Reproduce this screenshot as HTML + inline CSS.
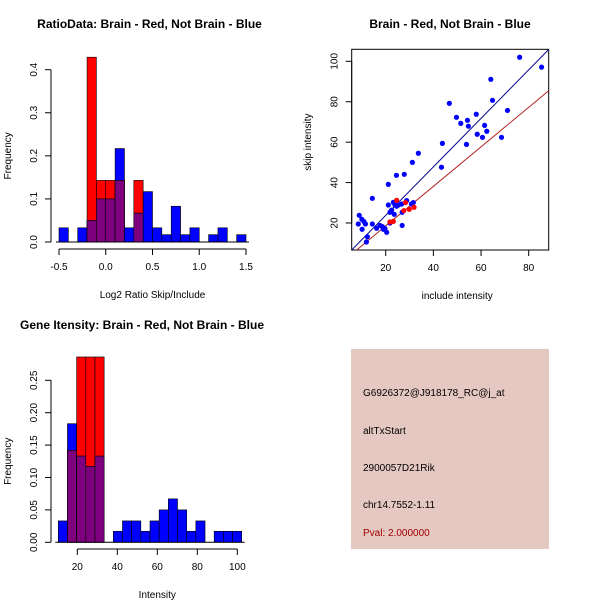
<!DOCTYPE html>
<html><head><meta charset="utf-8"><style>
body{margin:0;background:#fff}
svg{display:block}
text{font-family:"Liberation Sans",sans-serif;fill:#000}
.t{font-weight:bold;font-size:12px}
.l{font-size:10px}
</style></head><body>
<svg id="svg" width="600" height="600" viewBox="0 0 600 600">
<g id="g1"></g>
<g id="g2"></g>
<g id="g3"></g>
<g>
<rect x="351" y="349" width="198" height="200" fill="#e6c8c2"/>
<text x="363" y="396" class="l">G6926372@J918178_RC@j_at</text>
<text x="363" y="434" class="l">altTxStart</text>
<text x="363" y="471" class="l">2900057D21Rik</text>
<text x="363" y="508" class="l">chr14.7552-1.11</text>
<text x="363" y="536" class="l" style="fill:#a00000">Pval: 2.000000</text>
</g>
</svg>
<script>
// ---- Panel 1 data ----
const ratioBinStart = -0.5;
const ratioBinWidth = 0.1;
const ratioBlue = [0.033,0,0.033,0.05,0.1,0.1,0.217,0.033,0.067,0.117,0.033,0.017,0.083,0.017,0.033,0,0.017,0.033,0,0.017];
const ratioRed  = [0,0,0,0.429,0.143,0.143,0.143,0,0.143,0,0,0,0,0,0,0,0,0,0,0];
const ratioXTicks = [-0.5,0,0.5,1,1.5];
const ratioXTickLabels = ["-0.5","0.0","0.5","1.0","1.5"];
const ratioYTicks = [0,0.1,0.2,0.3,0.4];
const ratioYTickLabels = ["0.0","0.1","0.2","0.3","0.4"];
// ---- Panel 2 data ----
const scatterBlueX = [76.2,85.4,64.1,64.8,46.7,71.1,58,49.7,54.3,51.5,54.7,61.5,62.4,58.4,60.6,68.6,53.9,43.8,33.7,31.2,43.4,27.8,24.5,21.1,14.4,8.9,10,10.9,11.5,8.5,10.1,14.4,12.3,11.9,16.2,17.6,19,20.4,19.7,18.6,21.8,21.1,23.2,23.9,25.3,26.7,21.8,23.6,26.9,28.8,31.6,30.8,26.9,24.6,22.5];
const scatterBlueY = [102,97.1,91.1,80.7,79.2,75.7,73.8,72.3,70.8,69.3,67.9,68.3,65.4,63.9,62.4,62.4,58.9,59.4,54.5,50,47.6,44.1,43.6,39.1,32.2,23.8,21.8,20.7,19.5,19.5,16.9,19.5,13.2,10.6,17.4,18.8,16.9,15.4,17.2,18.2,20,28.9,30.2,28.9,28.9,29.4,25.3,24.3,25.3,31.1,30.1,29.4,18.8,28.3,26.4];
const scatterRedX = [24.6,23.2,28.3,29.9,31.9,21.8,27.6];
const scatterRedY = [31.2,20.8,30.1,26.8,27.8,20.5,26.1];
const blueFit = [-0.24,1.2];   // intercept, slope
const redFit = [-1.0,0.978];
const scatterXTicks = [20,40,60,80];
const scatterXTickLabels = ["20","40","60","80"];
const scatterYTicks = [20,40,60,80,100];
const scatterYTickLabels = ["20","40","60","80","100"];
// ---- Panel 3 data ----
const intBinStart = 10.5;
const intBinWidth = 4.585;
const intBlue = [0.033,0.183,0.133,0.117,0.133,0,0.017,0.033,0.033,0.017,0.033,0.05,0.067,0.05,0.017,0.033,0,0.017,0.017,0.017];
const intRed  = [0,0.142,0.286,0.286,0.286,0,0,0,0,0,0,0,0,0,0,0,0,0,0,0];
const intXTicks = [20,40,60,80,100];
const intXTickLabels = ["20","40","60","80","100"];
const intYTicks = [0,0.05,0.1,0.15,0.2,0.25];
const intYTickLabels = ["0.00","0.05","0.10","0.15","0.20","0.25"];

const NS="http://www.w3.org/2000/svg";
function mk(p,tag,a){const e=document.createElementNS(NS,tag);for(const k in a)e.setAttribute(k,a[k]);p.appendChild(e);return e;}
function lin(d0,d1,r0,r1){return v=>r0+(v-d0)*(r1-r0)/(d1-d0);}
function txt(p,x,y,s,cls,rot,anchor){const e=mk(p,'text',{x:x,y:y,'class':cls,'text-anchor':anchor||'middle'});if(rot)e.setAttribute('transform','rotate(-90 '+x+' '+y+')');e.textContent=s;return e;}

function hist(g,title,xlab,bs,bw,blue,red,sx,sy,xt,xtl,yt,ytl,yaxisX,xaxisY,titleX,titleY){
  let e=txt(g,titleX,titleY,title,'t');
  
  
  for(let i=0;i<blue.length;i++){
    const x0=sx(bs+i*bw),x1=sx(bs+(i+1)*bw);
    const b=blue[i],r=red[i],m=Math.min(b,r);
    if(r>0){e=mk(g,'rect',{x:x0,y:sy(r),width:x1-x0,height:sy(0)-sy(r),fill:'#ff0000',stroke:'#000','stroke-width':0.6});
      
      }
    if(b>0){e=mk(g,'rect',{x:x0,y:sy(b),width:x1-x0,height:sy(0)-sy(b),fill:'#0000ff',stroke:'#000','stroke-width':0.6});
      
      }
    if(m>0){e=mk(g,'rect',{x:x0,y:sy(m),width:x1-x0,height:sy(0)-sy(m),fill:'#7f007f',stroke:'#000','stroke-width':0.6});
      
      }
  }
  mk(g,'line',{x1:sx(bs)-3,x2:sx(bs+blue.length*bw)+3,y1:sy(0),y2:sy(0),stroke:'#000'});
  axes(g,sx,sy,xt,xtl,yt,ytl,yaxisX,xaxisY,xlab,'Frequency',8,14);
}
function axes(g,sx,sy,xt,xtl,yt,ytl,yaxisX,xaxisY,xlab,ylab,ylabX,yOff){
  let e;
  mk(g,'line',{x1:sx(xt[0]),x2:sx(xt[xt.length-1]),y1:xaxisY,y2:xaxisY,stroke:'#000'});
  xt.forEach((v,i)=>{mk(g,'line',{x1:sx(v),x2:sx(v),y1:xaxisY,y2:xaxisY+6,stroke:'#000'});
    e=txt(g,sx(v),xaxisY+21,xtl[i],'l');
    
    });
  mk(g,'line',{x1:yaxisX,x2:yaxisX,y1:sy(yt[0]),y2:sy(yt[yt.length-1]),stroke:'#000'});
  yt.forEach((v,i)=>{mk(g,'line',{x1:yaxisX-6,x2:yaxisX,y1:sy(v),y2:sy(v),stroke:'#000'});
    e=txt(g,yaxisX-yOff,sy(v),ytl[i],'l',true);
    
    });
  e=txt(g,(sx(xt[0])+sx(xt[xt.length-1]))/2,xaxisY+49,xlab,'l');
  
  
  e=txt(g,ylabX+3,(sy(yt[0])+sy(yt[yt.length-1]))/2,ylab,'l',true);
  
  
}

hist(document.getElementById('g1'),'RatioData: Brain - Red, Not Brain - Blue','Log2 Ratio Skip/Include',
  ratioBinStart,ratioBinWidth,ratioBlue,ratioRed,lin(-0.5,1.5,59,246),lin(0,0.4,242,69.7),
  ratioXTicks,ratioXTickLabels,ratioYTicks,ratioYTickLabels,51,249,149.5,28);
hist(document.getElementById('g3'),'Gene Itensity: Brain - Red, Not Brain - Blue','Intensity',
  intBinStart,intBinWidth,intBlue,intRed,lin(20,100,77.3,237.3),lin(0,0.25,542.3,380.3),
  intXTicks,intXTickLabels,intYTicks,intYTickLabels,51,549,142,329);

(function(){
  const g=document.getElementById('g2');
  const sx=lin(20,80,385.7,528.7), sy=lin(20,100,223,61.3);
  let e=txt(g,450,28,'Brain - Red, Not Brain - Blue','t');
  
  
  const L=351.7,R=548.7,T=49.3,B=250;
  e=mk(g,'rect',{x:L,y:T,width:R-L,height:B-T,fill:'none',stroke:'#000'});
  
  
  const cp=mk(g,'clipPath',{id:'cp'});mk(cp,'rect',{x:L,y:T,width:R-L,height:B-T});
  const xL=20+(L-385.7)*60/143, xR=20+(R-385.7)*60/143;
  [[blueFit,'#00008b','blue-fit-line'],[redFit,'#b22222','red-fit-line']].forEach(f=>{
    e=mk(g,'line',{x1:sx(xL),y1:sy(f[0][0]+f[0][1]*xL),x2:sx(xR),y2:sy(f[0][0]+f[0][1]*xR),stroke:f[1],'stroke-width':1,'clip-path':'url(#cp)'});
    
    
  });
  scatterBlueX.forEach((x,i)=>{e=mk(g,'circle',{cx:sx(x),cy:sy(scatterBlueY[i]),r:2.6,fill:'#0000ff'});
    
    });
  scatterRedX.forEach((x,i)=>{e=mk(g,'circle',{cx:sx(x),cy:sy(scatterRedY[i]),r:2.6,fill:'#ff0000'});
    
    });
  axes(g,sx,sy,scatterXTicks,scatterXTickLabels,scatterYTicks,scatterYTickLabels,L,B,'include intensity','skip intensity',308,14);
})();
</script>
</body></html>
